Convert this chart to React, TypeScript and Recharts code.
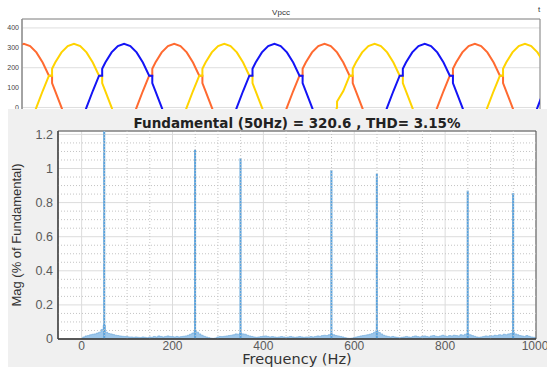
import {
  LineChart,
  Line,
  ComposedChart,
  Area,
  Bar,
  XAxis,
  YAxis,
  CartesianGrid,
  ReferenceLine,
  ReferenceArea,
} from 'recharts';

// ---- top: Vpcc waveform (sample index, 15 deg per sample) ----
const sampleIdx = [
  5, 6, 7, 8, 9, 10, 10.5, 10.5, 11, 12, 13, 14, 15, 16, 17, 18, 18.5, 18.5, 19, 20,
  21, 22, 23, 24, 25, 26, 26.5, 26.5, 27, 28, 29, 30, 31, 32, 33, 34, 34.5, 34.5, 35, 36,
  37, 38, 39, 40, 41, 42, 42.5, 42.5, 43, 44, 45, 46, 47, 48, 49, 50, 50.5, 50.5, 51, 52,
  53, 54, 55, 56, 56, 57, 58, 58.5, 58.5, 59, 60, 61, 62, 63, 64, 65, 66, 66.5, 66.5, 67,
  68, 69, 70, 71, 72, 73, 74, 74.5, 74.5, 75, 76, 77, 78, 79, 80, 81, 82, 82.5, 82.5, 83,
  84, 85, 86, 87, 88, 89,
];
const vA = [
  309.1, 320, 309.1, 277.1, 226.3, 160, 160, 122.5, 82.8, 0, -82.8, -160, -226.3, -277.1, -309.1, -320, -317.3, -317.3, -309.1, -277.1,
  -226.3, -160, -82.8, 0, 82.8, 160, 160, 194.8, 226.3, 277.1, 309.1, 320, 309.1, 277.1, 226.3, 160, 160, 122.5, 82.8, 0,
  -82.8, -160, -226.3, -277.1, -309.1, -320, -317.3, -317.3, -309.1, -277.1, -226.3, -160, -82.8, 0, 82.8, 160, 160, 194.8, 226.3, 277.1,
  309.1, 320, 309.1, 277.1, 277.1, 226.3, 160, 160, 122.5, 82.8, 0, -82.8, -160, -226.3, -277.1, -309.1, -320, -317.3, -317.3, -309.1,
  -277.1, -226.3, -160, -82.8, 0, 82.8, 160, 160, 194.8, 226.3, 277.1, 309.1, 320, 309.1, 277.1, 226.3, 160, 160, 122.5, 82.8,
  0, -82.8, -160, -226.3, -277.1, -309.1,
];
const vB = [
  -226.3, -160, -82.8, 0, 82.8, 160, 160, 194.8, 226.3, 277.1, 309.1, 320, 309.1, 277.1, 226.3, 160, 160, 122.5, 82.8, 0,
  -82.8, -160, -226.3, -277.1, -309.1, -320, -317.3, -317.3, -309.1, -277.1, -226.3, -160, -82.8, 0, 82.8, 160, 160, 194.8, 226.3, 277.1,
  309.1, 320, 309.1, 277.1, 226.3, 160, 160, 122.5, 82.8, 0, -82.8, -160, -226.3, -277.1, -309.1, -320, -317.3, -317.3, -309.1, -277.1,
  -226.3, -160, -82.8, 0, 30, 82.8, 160, 160, 194.8, 226.3, 277.1, 309.1, 320, 309.1, 277.1, 226.3, 160, 160, 122.5, 82.8,
  0, -82.8, -160, -226.3, -277.1, -309.1, -320, -317.3, -317.3, -309.1, -277.1, -226.3, -160, -82.8, 0, 82.8, 160, 160, 194.8, 226.3,
  277.1, 309.1, 320, 309.1, 277.1, 226.3,
];
const vC = [
  -82.8, -160, -226.3, -277.1, -309.1, -320, -317.3, -317.3, -309.1, -277.1, -226.3, -160, -82.8, 0, 82.8, 160, 160, 194.8, 226.3, 277.1,
  309.1, 320, 309.1, 277.1, 226.3, 160, 160, 122.5, 82.8, 0, -82.8, -160, -226.3, -277.1, -309.1, -320, -317.3, -317.3, -309.1, -277.1,
  -226.3, -160, -82.8, 0, 82.8, 160, 160, 194.8, 226.3, 277.1, 309.1, 320, 309.1, 277.1, 226.3, 160, 160, 122.5, 82.8, 0,
  -82.8, -160, -226.3, -277.1, -277.1, -309.1, -320, -317.3, -317.3, -309.1, -277.1, -226.3, -160, -82.8, 0, 82.8, 160, 160, 194.8, 226.3,
  277.1, 309.1, 320, 309.1, 277.1, 226.3, 160, 160, 122.5, 82.8, 0, -82.8, -160, -226.3, -277.1, -309.1, -320, -317.3, -317.3, -309.1,
  -277.1, -226.3, -160, -82.8, 0, 82.8,
];
const vTicks = [0, 100, 200, 300, 400];
const sampleGridTicks = [8, 20.1, 32.2, 44.3, 56.4, 68.5, 80.6];
const sampleDomain: [number, number] = [5.7, 88.4];
const vDomain: [number, number] = [-400, 445];

const waveData = sampleIdx.map((k, i) => ({ k, a: vA[i], b: vB[i], c: vC[i] }));

// ---- bottom: FFT spectrum ----
const FREQ_STEP = 5;
const noiseFloor = [
  0.004, 0.012, 0.018, 0.02, 0.025, 0.028, 0.03, 0.035, 0.04, 0.055, 0.08, 0.04, 0.032, 0.03, 0.026, 0.022, 0.02, 0.018, 0.016, 0.015,
  0.014, 0.012, 0.012, 0.01, 0.012, 0.01, 0.009, 0.012, 0.01, 0.008, 0.012, 0.01, 0.015, 0.012, 0.018, 0.015, 0.012, 0.015, 0.018, 0.015,
  0.014, 0.012, 0.015, 0.012, 0.014, 0.016, 0.018, 0.022, 0.028, 0.035, 0.045, 0.04, 0.03, 0.022, 0.016, 0.012, 0.008, 0.005, 0.004, 0.006,
  0.012, 0.015, 0.014, 0.016, 0.018, 0.02, 0.022, 0.025, 0.03, 0.028, 0.035, 0.03, 0.028, 0.022, 0.018, 0.015, 0.012, 0.01, 0.012, 0.014,
  0.016, 0.018, 0.015, 0.012, 0.014, 0.012, 0.01, 0.012, 0.014, 0.012, 0.01, 0.012, 0.015, 0.012, 0.01, 0.012, 0.014, 0.012, 0.01, 0.012,
  0.012, 0.014, 0.012, 0.015, 0.018, 0.016, 0.02, 0.022, 0.02, 0.025, 0.03, 0.025, 0.02, 0.018, 0.015, 0.012, 0.008, 0.005, 0.004, 0.005,
  0.008, 0.012, 0.015, 0.018, 0.02, 0.022, 0.025, 0.028, 0.032, 0.04, 0.05, 0.038, 0.03, 0.022, 0.018, 0.015, 0.012, 0.015, 0.012, 0.01,
  0.008, 0.01, 0.012, 0.015, 0.012, 0.01, 0.015, 0.018, 0.014, 0.012, 0.016, 0.018, 0.015, 0.012, 0.018, 0.02, 0.016, 0.014, 0.018, 0.022,
  0.018, 0.015, 0.02, 0.018, 0.022, 0.02, 0.018, 0.025, 0.022, 0.028, 0.032, 0.025, 0.02, 0.016, 0.012, 0.01, 0.012, 0.015, 0.018, 0.016,
  0.02, 0.018, 0.022, 0.02, 0.025, 0.022, 0.028, 0.025, 0.03, 0.032, 0.04, 0.03, 0.025, 0.02, 0.018, 0.015, 0.02, 0.016, 0.012, 0.01,
  0.008,
];
const harmonicFreqs = [50, 250, 350, 550, 650, 850, 950];
const harmonicMags = [100, 1.11, 1.06, 0.99, 0.97, 0.87, 0.855];
const freqTicks = [0, 200, 400, 600, 800, 1000];
const magTicks = [0, 0.2, 0.4, 0.6, 0.8, 1, 1.2];
const minorFreqs = [50, 100, 150, 250, 300, 350, 450, 500, 550, 650, 700, 750, 850, 900, 950];
const minorMags = [0.05, 0.1, 0.15, 0.25, 0.3, 0.35, 0.45, 0.5, 0.55, 0.65, 0.7, 0.75, 0.85, 0.9, 0.95, 1.05, 1.1, 1.15];
const freqDomain: [number, number] = [-52, 1000];
const magDomain: [number, number] = [0, 1.22];

const fftData = noiseFloor.map((n, i) => {
  const f = i * FREQ_STEP;
  const h = harmonicFreqs.indexOf(f);
  return { f, noise: n, spike: h >= 0 ? harmonicMags[h] : null };
});

const FONT = "'Liberation Sans', Arial, Helvetica, sans-serif";
const WIDE = "'DejaVu Sans', Verdana, sans-serif";

export default function App() {
  return (
    <div style={{ position: 'absolute', left: 0, top: 0, width: 547, height: 367, background: '#fff', fontFamily: FONT, overflow: 'hidden' }}>
      <div style={{ position: 'absolute', left: 0, top: 0, width: 547, height: 109, overflow: 'hidden' }}>
        <LineChart width={547} height={190} data={waveData} margin={{ top: 19, right: 7, bottom: 3, left: 0 }}>
          <CartesianGrid stroke="#d6d6d6" strokeWidth={0.8} />
          <XAxis
            type="number"
            dataKey="k"
            domain={sampleDomain}
            ticks={sampleGridTicks}
            allowDataOverflow
            tick={false}
            tickLine={false}
            axisLine={false}
            height={0}
          />
          <YAxis
            domain={vDomain}
            ticks={vTicks}
            allowDataOverflow
            width={22}
            tickLine={false}
            tickSize={0}
            tickMargin={3}
            axisLine={{ stroke: '#8a8a8a' }}
            tick={{ fontSize: 7, fill: '#444', fontFamily: FONT }}
          />
          <ReferenceArea x1={sampleDomain[0]} x2={sampleDomain[1]} y1={vDomain[0]} y2={vDomain[1]} fill="none" stroke="#8a8a8a" />
          <Line type="linear" dataKey="a" stroke="#FF6A30" strokeWidth={2} dot={false} isAnimationActive={false} />
          <Line type="linear" dataKey="b" stroke="#FFD300" strokeWidth={2} dot={false} isAnimationActive={false} />
          <Line type="linear" dataKey="c" stroke="#1414F5" strokeWidth={2} dot={false} isAnimationActive={false} />
        </LineChart>
        <div style={{ position: 'absolute', left: 231, width: 100, top: 8, textAlign: 'center', fontSize: 8, color: '#333', lineHeight: '10px' }}>
          Vpcc
        </div>
        <div style={{ position: 'absolute', left: 538, top: 5, fontSize: 8, color: '#333', lineHeight: '10px' }}>t</div>
      </div>

      <div style={{ position: 'absolute', left: 8, top: 109, width: 539, height: 258, background: '#f0f0f0' }} />
      <div style={{ position: 'absolute', left: 0, top: 109 }}>
        <ComposedChart width={547} height={258} data={fftData} margin={{ top: 22, right: 11, bottom: 0, left: 0 }}>
          <CartesianGrid stroke="#dcdcdc" fill="#ffffff" />
          {minorFreqs.map((f) => (
            <ReferenceLine key={'mf' + f} x={f} stroke="#c4c4c4" strokeDasharray="1 2" />
          ))}
          {minorMags.map((m) => (
            <ReferenceLine key={'mm' + m} y={m} stroke="#c4c4c4" strokeDasharray="1 2" />
          ))}
          <XAxis
            type="number"
            dataKey="f"
            domain={freqDomain}
            ticks={freqTicks}
            allowDataOverflow
            height={28}
            tickLine={false}
            tickSize={0}
            tickMargin={2}
            axisLine={{ stroke: '#404040', strokeWidth: 1.3 }}
            tick={{ fontSize: 12, fill: '#5a5a5a', fontFamily: FONT }}
          />
          <YAxis
            domain={magDomain}
            ticks={magTicks}
            allowDataOverflow
            width={58}
            tickLine={false}
            tickSize={0}
            tickMargin={5}
            axisLine={{ stroke: '#404040', strokeWidth: 1.3 }}
            tick={{ fontSize: 12.5, fill: '#5a5a5a', fontFamily: FONT }}
          />
          <Area
            type="step"
            dataKey="noise"
            stroke="#6aa8dc"
            strokeWidth={0.6}
            fill="#9cc6ea"
            fillOpacity={1}
            isAnimationActive={false}
          />
          <Bar dataKey="spike" fill="#5aa2dc" barSize={2} isAnimationActive={false} />
          <ReferenceArea x1={freqDomain[0]} x2={freqDomain[1]} y1={magDomain[0]} y2={magDomain[1]} fill="none" stroke="#505050" />
        </ComposedChart>
      </div>
      <div style={{ position: 'absolute', left: 47, width: 500, top: 115, textAlign: 'center', fontSize: 13.5, fontWeight: 'bold', color: '#222', lineHeight: '16px', fontFamily: WIDE }}>
        Fundamental (50Hz) = 320.6 , THD= 3.15%
      </div>
      <div
        style={{
          position: 'absolute',
          left: 17 - 100,
          top: 235 - 8,
          width: 200,
          textAlign: 'center',
          fontSize: 13,
          lineHeight: '16px',
          color: '#333',
          fontFamily: "'Liberation Sans Narrow', " + FONT,
          transform: 'rotate(-90deg)',
        }}
      >
        Mag (% of Fundamental)
      </div>
      <div style={{ position: 'absolute', left: 147, width: 300, top: 352, textAlign: 'center', fontSize: 14.5, color: '#333', lineHeight: '14px', fontFamily: WIDE }}>
        Frequency (Hz)
      </div>
    </div>
  );
}
